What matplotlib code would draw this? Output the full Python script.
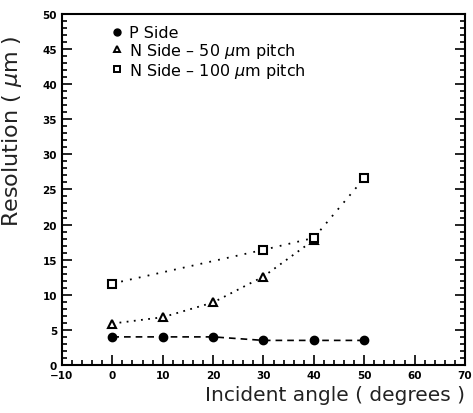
import matplotlib
matplotlib.use("Agg")
import matplotlib.pyplot as plt
from matplotlib.lines import Line2D
from matplotlib import ticker

# dati
angoli_p = [0, 10, 20, 30, 40, 50]
res_p = [4.0, 4.0, 4.0, 3.5, 3.5, 3.5]

angoli_n50 = [0, 10, 20, 30, 40]
res_n50 = [5.9, 6.8, 8.9, 12.6, 17.8]

angoli_n100 = [0, 30, 40, 50]
res_n100 = [11.6, 16.4, 18.1, 26.6]

etichette = ["P Side", "N Side – 50 $\\mu$m pitch", "N Side – 100 $\\mu$m pitch"]

fig = plt.figure(figsize=(4.73, 4.14), dpi=100)
ax = fig.add_axes([0.131, 0.116, 0.852, 0.848])

ax.plot(angoli_p, res_p, linestyle=(0, (4, 3)), color='black', linewidth=1.2,
        marker='o', markersize=6, markerfacecolor='black')
ax.plot(angoli_n50, res_n50, linestyle=(0, (1, 3)), color='black', linewidth=1.3,
        marker='^', markersize=6, markerfacecolor='white', markeredgewidth=1.5)
ax.plot(angoli_n100, res_n100, linestyle=(0, (1, 4)), color='black', linewidth=1.3,
        marker='s', markersize=6, markerfacecolor='white', markeredgewidth=1.5)

ax.set_xlim(-10, 70)
ax.set_ylim(0, 50)
ax.xaxis.set_major_locator(ticker.MultipleLocator(10))
ax.xaxis.set_minor_locator(ticker.MultipleLocator(2))
ax.yaxis.set_major_locator(ticker.MultipleLocator(5))
ax.yaxis.set_minor_locator(ticker.MultipleLocator(1))
ax.tick_params(which='both', direction='in', top=False, right=True, width=1.2)
ax.tick_params(which='major', length=7, labelsize=7.5)
ax.tick_params(which='minor', length=3.5)
for lab in ax.get_xticklabels() + ax.get_yticklabels():
    lab.set_fontweight('bold')
for sp in ax.spines.values():
    sp.set_linewidth(1.5)

ax.set_ylabel("Resolution ( $\\mu$m )", fontsize=16, color='#222222')
ax.yaxis.set_label_coords(-0.095, 0.67)
ax.set_xlabel("Incident angle ( degrees )", fontsize=14.5, color='#222222', loc='right')

handles = [
    Line2D([], [], linestyle='none', marker='o', color='black', markersize=5),
    Line2D([], [], linestyle='none', marker='^', color='black', markerfacecolor='white',
           markersize=5, markeredgewidth=1.4),
    Line2D([], [], linestyle='none', marker='s', color='black', markerfacecolor='white',
           markersize=5, markeredgewidth=1.4),
]
ax.legend(handles, etichette, loc='upper left', bbox_to_anchor=(0.1, 0.995), frameon=False,
          fontsize=11.5, handlelength=0.6, handletextpad=0.5, labelspacing=0.05,
          borderaxespad=0.2)

plt.savefig("out.png", dpi=100)
